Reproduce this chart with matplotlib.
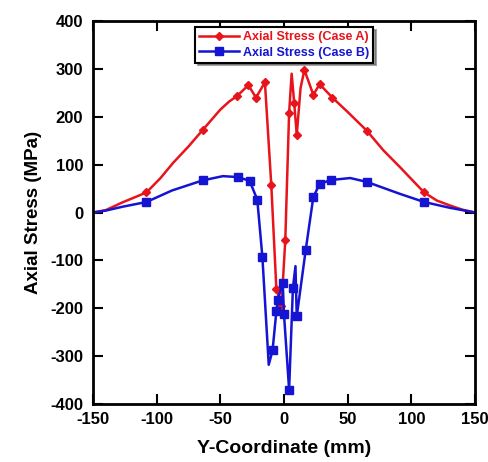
import matplotlib
matplotlib.use("Agg")
import matplotlib.pyplot as plt
from matplotlib.ticker import FuncFormatter

plt.rcParams['font.family'] = ['Liberation Sans', 'DejaVu Sans']
plt.rcParams['font.weight'] = 'bold'

# Case A (red)
xa = [-150, -140, -127, -108, -97, -87, -75, -64, -50, -43, -37, -28, -22, -15, -10, -6, -2, 1, 4, 6, 8, 10, 13, 16, 23, 28, 38, 50, 65, 78, 91, 110, 120, 130, 140, 150]
ya = [0, 5, 21, 42, 72, 104, 138, 172, 215, 232, 243, 266, 240, 272, 58, -160, -195, -58, 208, 290, 229, 162, 260, 298, 246, 268, 240, 210, 171, 130, 95, 42, 25, 15, 6, 0]
mark_a = [3, 7, 10, 11, 12, 13, 14, 15, 16, 17, 18, 20, 21, 23, 24, 25, 26, 28, 31]

# Case B (blue)
xb = [-150, -140, -127, -108, -88, -64, -48, -36, -27, -21, -17, -12, -9, -6, -5, -1, 0, 4, 7, 9, 10, 17, 23, 28, 37, 52, 65, 91, 110, 130, 150]
yb = [0, 4, 12, 22, 46, 67, 76, 74, 66, 27, -92, -318, -288, -206, -183, -147, -213, -370, -157, -112, -217, -79, 32, 60, 68, 72, 64, 39, 22, 10, 0]
mark_b = [3, 5, 7, 8, 9, 10, 12, 13, 14, 15, 16, 17, 18, 20, 21, 22, 23, 24, 26, 28]

xticks = [-150, -100, -50, 0, 50, 100, 150]
yticks = [-400, -300, -200, -100, 0, 100, 200, 300, 400]

fig = plt.figure(figsize=(4.89, 4.62), dpi=100)
ax = fig.add_axes([0.1902, 0.1255, 0.9714 - 0.1902, 0.9545 - 0.1255])

ax.plot(xa, ya, color='#e8141c', lw=1.8, marker='D', ms=4, markevery=mark_a,
        label='Axial Stress (Case A)')
ax.plot(xb, yb, color='#1414d2', lw=1.8, marker='s', ms=6, markevery=mark_b,
        label='Axial Stress (Case B)')

ax.set_xlim(-150, 150)
ax.set_ylim(-400, 400)
ax.set_xticks(xticks)
ax.set_yticks(yticks)
fmt = FuncFormatter(lambda v, p: '%d' % v)
ax.xaxis.set_major_formatter(fmt)
ax.yaxis.set_major_formatter(fmt)
ax.tick_params(direction='in', length=7, width=1.5, top=True, right=True, labelsize=12)
ax.tick_params(axis='y', pad=7)
ax.tick_params(axis='x', pad=6)
for lab in ax.get_xticklabels() + ax.get_yticklabels():
    lab.set_fontweight('bold')
for s in ax.spines.values():
    s.set_linewidth(2)

ax.set_xlabel('Y-Coordinate (mm)', fontsize=14, fontweight='bold', labelpad=9)
ax.set_ylabel('Axial Stress (MPa)', fontsize=13.5, fontweight='bold', labelpad=6)

leg = ax.legend(loc='upper center', bbox_to_anchor=(0.5, 0.99), fontsize=9,
                frameon=True, fancybox=False, shadow=True, handlelength=3.2,
                borderpad=0.3, labelspacing=0.3, handletextpad=0.3,
                borderaxespad=0.2)
leg.get_frame().set_edgecolor('black')
leg.get_frame().set_linewidth(1.5)
for t, c in zip(leg.get_texts(), ['#e8141c', '#1414d2']):
    t.set_color(c)
    t.set_fontweight('bold')

fig.savefig('out.png', dpi=100)
